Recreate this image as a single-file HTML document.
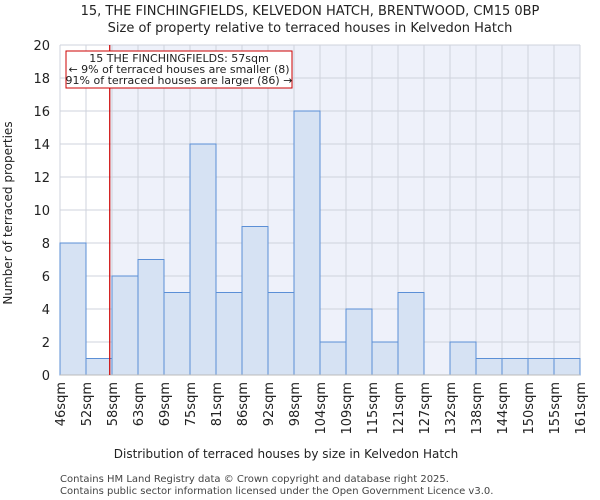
<!DOCTYPE html>
<html><head><meta charset="utf-8"><style>
body{margin:0;background:#fff;}
svg{display:block;font-family:"DejaVu Sans","Liberation Sans",sans-serif;}
</style></head><body>
<svg id="chart" width="600" height="500" viewBox="0 0 600 500">
<text x="310" y="15" text-anchor="middle" font-size="13" fill="#222">15, THE FINCHINGFIELDS, KELVEDON HATCH, BRENTWOOD, CM15 0BP</text>
<text x="310" y="32" text-anchor="middle" font-size="13" fill="#222">Size of property relative to terraced houses in Kelvedon Hatch</text>
<g id="plot"></g>
<text x="286" y="458" text-anchor="middle" font-size="12" fill="#222">Distribution of terraced houses by size in Kelvedon Hatch</text>
<text transform="translate(12,213) rotate(-90)" text-anchor="middle" font-size="12" fill="#222">Number of terraced properties</text>
<text x="60" y="482" font-size="10" fill="#444">Contains HM Land Registry data © Crown copyright and database right 2025.</text>
<text x="60" y="494" font-size="10" fill="#444">Contains public sector information licensed under the Open Government Licence v3.0.</text>
</svg>
<script>
const binLabels=["46sqm","52sqm","58sqm","63sqm","69sqm","75sqm","81sqm","86sqm","92sqm","98sqm","104sqm","109sqm","115sqm","121sqm","127sqm","132sqm","138sqm","144sqm","150sqm","155sqm","161sqm"];
const binEdges=[46,51.75,57.5,63.25,69,74.75,80.5,86.25,92,97.75,103.5,109.25,115,120.75,126.5,132.25,138,143.75,149.5,155.25,161];
const counts=[8,1,6,7,5,14,5,9,5,16,2,4,2,5,0,2,1,1,1,1];
const yTicks=[0,2,4,6,8,10,12,14,16,18,20];
const propertySize=57;
const annotationLines=["15 THE FINCHINGFIELDS: 57sqm","← 9% of terraced houses are smaller (8)","91% of terraced houses are larger (86) →"];

const X0=60,X1=580,Y0=375,Y1=45,YMAX=20;
const bw=(X1-X0)/counts.length;
const xi=i=>X0+i*bw;
const y=v=>Y0-(Y0-Y1)*v/YMAX;
function xVal(v){for(let i=0;i<binEdges.length-1;i++){if(v<=binEdges[i+1])return xi(i)+bw*(v-binEdges[i])/(binEdges[i+1]-binEdges[i]);}return X1;}
const NS="http://www.w3.org/2000/svg";
const g=document.getElementById('plot');
function mk(t,a){const e=document.createElementNS(NS,t);for(const k in a)e.setAttribute(k,a[k]);g.appendChild(e);return e;}
const xr=xVal(propertySize);
let e=mk('rect',{x:X0,y:Y1,width:X1-X0,height:Y0-Y1,fill:'#eef1fa'});


e=mk('rect',{x:X0,y:Y1,width:xr-X0,height:Y0-Y1,fill:'#ffffff'});


yTicks.forEach(t=>{
  e=mk('line',{x1:X0,x2:X1,y1:y(t),y2:y(t),stroke:'#cfd3dc','stroke-width':1});
  
  
  e=mk('text',{x:X0-10,y:y(t)+5,'text-anchor':'end','font-size':13,fill:'#222'});
  e.textContent=t;
  
  
});
binLabels.forEach((l,i)=>{
  e=mk('line',{x1:xi(i),x2:xi(i),y1:Y1,y2:Y0,stroke:'#cfd3dc','stroke-width':1});
  
  
});
counts.forEach((c,i)=>{
  if(c<=0)return;
  e=mk('rect',{x:xi(i),y:y(c),width:bw,height:Y0-y(c),fill:'#d6e2f3',stroke:'#5b8fd6','stroke-width':1});
  
  
});
e=mk('line',{x1:X0,x2:X1,y1:Y0,y2:Y0,stroke:'#bbb','stroke-width':1});


binLabels.forEach((l,i)=>{
  e=mk('text',{transform:`translate(${xi(i)+5},382) rotate(-90)`,'text-anchor':'end','font-size':13,fill:'#222'});
  e.textContent=l;
  
  
});
e=mk('line',{x1:xr,x2:xr,y1:Y1,y2:Y0,stroke:'#cc0000','stroke-width':1.2});


e=mk('rect',{x:66,y:51,width:226,height:37,fill:'#fff',stroke:'#cc0000','stroke-width':1});


annotationLines.forEach((l,i)=>{
  e=mk('text',{x:179,y:62+i*11,'text-anchor':'middle','font-size':11,fill:'#222'});
  e.textContent=l;
  
  
});
</script>
</body></html>
